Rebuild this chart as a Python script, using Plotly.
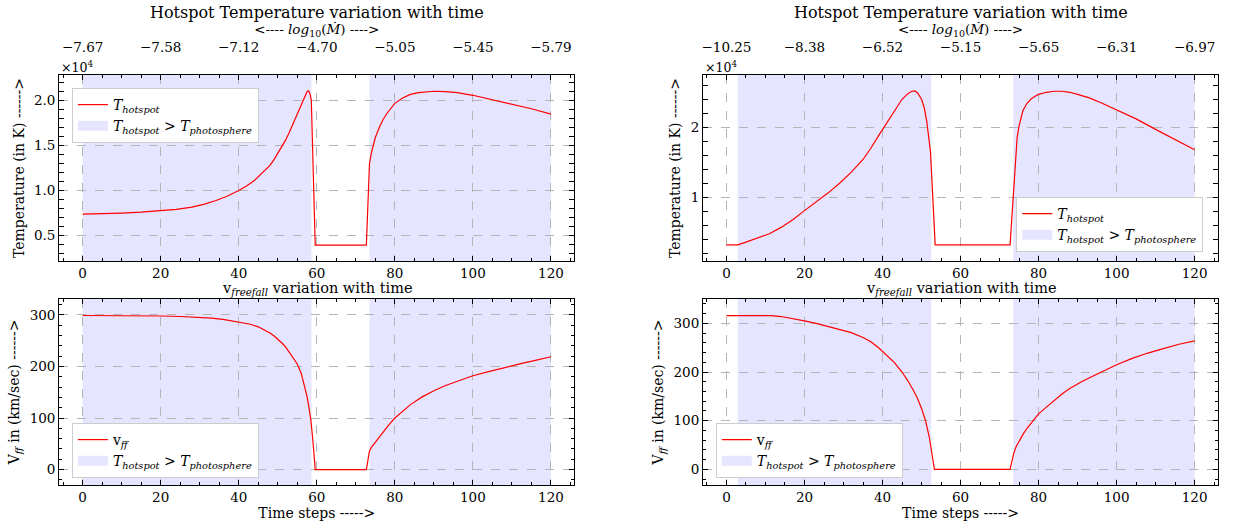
import plotly.graph_objects as go

# ---------------- data ----------------
# Left column: hotspot temperature (K) vs time step
t_T_left = [0, 5, 10, 15, 20, 24, 28, 31, 34, 37, 40, 42, 44, 46, 48, 49, 50, 51, 52, 53, 54,
            55, 56, 56.8, 57.5, 57.9, 58.3, 58.6, 59.6, 72.7, 73.2, 73.5, 74, 74.5, 75, 76, 77,
            78, 79, 80, 82, 84, 86, 88, 90, 93, 96, 100, 105, 110, 115, 120]
T_left = [7370, 7400, 7480, 7580, 7730, 7900, 8150, 8450, 8850, 9350, 10000, 10500, 11100,
          11900, 12800, 13400, 14100, 14800, 15600, 16500, 17500, 18600, 19600, 20400, 21000,
          21100, 20700, 20000, 3900, 3900, 9000, 13000, 14200, 15200, 15900, 17000, 17900,
          18600, 19200, 19700, 20300, 20700, 20900, 21000, 21050, 21000, 20900, 20600, 20100,
          19600, 19100, 18500]

# Left column: free-fall velocity (km/s)
t_v_left = [0, 10, 20, 25, 30, 33, 36, 39, 41, 43, 45, 47, 48, 49, 50, 51, 52, 53, 54, 55, 56,
            57, 57.5, 58, 58.5, 59, 59.6, 72.7, 73.2, 73.5, 74, 74.7, 75.5, 77, 78.5, 80, 82,
            84, 87, 90, 93, 96, 100, 104, 108, 112, 116, 120]
v_left = [299, 298.8, 298, 297, 295.5, 294, 291.5, 288, 285.5, 282, 277, 270, 265, 259.5, 253,
          246, 238, 227, 217, 205, 187, 160, 142, 120, 95, 56, 0, 0, 25, 36, 43, 50, 58, 73,
          87, 100, 113, 126, 141, 153, 163, 171, 182, 190, 198, 205, 212, 219]

# Right column: hotspot temperature (K)
t_T_right = [0, 2.9, 5, 8, 11, 14, 17, 20, 23, 26, 29, 32, 35, 37, 39, 41, 43, 45, 46.5, 47.5,
             48.3, 49, 50, 50.7, 51.3, 51.8, 52.3, 52.7, 53.5, 72.7, 73.5, 74, 74.5, 75, 75.5,
             76, 77, 78, 79, 80, 82, 84, 86, 88, 90, 93, 96, 100, 105, 110, 115, 120]
T_right = [3200, 3200, 3600, 4150, 4800, 5700, 6800, 8100, 9300, 10600, 12000, 13600, 15400,
           17000, 18800, 20600, 22400, 24000, 24800, 25150, 25200, 24900, 24000, 22800, 21000,
           19000, 16500, 12000, 3200, 3200, 10000, 15000, 18500, 20200, 21400, 22400, 23400,
           24000, 24400, 24700, 25000, 25150, 25150, 25000, 24700, 24200, 23500, 22500, 21200,
           19700, 18200, 16800]

# Right column: free-fall velocity (km/s)
t_v_right = [0, 11.5, 14, 17, 20, 23, 26, 29, 32, 35, 37, 39, 41, 43, 45, 46.5, 48, 49, 50, 51,
             52, 52.7, 53.3, 72.7, 73.2, 73.6, 74.2, 75, 76, 77, 78.5, 80, 82, 84, 86, 88, 91,
             94, 97, 100, 104, 108, 112, 116, 120]
v_right = [316, 316, 314, 310, 305, 300, 294, 288, 281, 271, 262, 250, 236, 220, 200, 182, 161,
           145, 125, 101, 66, 30, 0, 0, 18, 32, 46, 58, 72, 84, 100, 114, 128, 141, 155, 166,
           180, 192, 204, 215, 228, 239, 248, 257, 264]

# Intervals where T_hotspot > T_photosphere
shade_left = [(0, 58.65), (73.5, 120)]
shade_right = [(2.9, 52.5), (73.5, 120)]

# Tick positions and labels
time_ticks = [0, 20, 40, 60, 80, 100, 120]
mdot_labels_left = ["\u22127.67", "\u22127.58", "\u22127.12", "\u22124.70", "\u22125.05",
                    "\u22125.45", "\u22125.79"]
mdot_labels_right = ["\u221210.25", "\u22128.38", "\u22126.52", "\u22125.15", "\u22125.65",
                     "\u22126.31", "\u22126.97"]

# ---------------- figure ----------------
W, H = 1233, 525
FONT = "DejaVu Serif"
RED = "#ff0000"
SHADE = "rgba(0,0,255,0.1)"
SCALE = 1e4

xdom_L = [57.3 / W, 573.3 / W]
xdom_R = [702.2 / W, 1218 / W]
ydom_T = [1 - 261 / H, 1 - 75 / H]
ydom_B = [1 - 485 / H, 1 - 299 / H]

fig = go.Figure()

T_name = "<i>T</i><sub><i>hotspot</i></sub>"
shade_name = "<i>T</i><sub><i>hotspot</i></sub> &gt; <i>T</i><sub><i>photosphere</i></sub>"
v_name = "v<sub><i>ff</i></sub>"

panels = [
    ("x", "y", t_T_left, [v / SCALE for v in T_left], T_name, shade_left, "legend"),
    ("x2", "y2", t_v_left, v_left, v_name, shade_left, "legend2"),
    ("x3", "y3", t_T_right, [v / SCALE for v in T_right], T_name, shade_right, "legend3"),
    ("x4", "y4", t_v_right, v_right, v_name, shade_right, "legend4"),
]

shapes = []
for xa, ya, xs, ys, nm, shade, lg in panels:
    fig.add_trace(go.Scatter(x=xs, y=ys, mode="lines", line=dict(color=RED, width=1.2),
                             name=nm, xaxis=xa, yaxis=ya, legend=lg, showlegend=True,
                             hoverinfo="x+y"))
    # legend entry for the shaded intervals (patch-like thick line sample)
    fig.add_trace(go.Scatter(x=[None], y=[None], mode="lines",
                             line=dict(color=SHADE, width=12), name=shade_name,
                             xaxis=xa, yaxis=ya, legend=lg, showlegend=True, hoverinfo="skip"))
    for a, b in shade:
        shapes.append(dict(type="rect", xref=xa, yref=ya + " domain", x0=a, x1=b, y0=0, y1=1,
                           fillcolor=SHADE, line=dict(width=0), layer="below"))

# invisible traces so that the top (log10 Mdot) axes get drawn
for xa, ya in (("x5", "y"), ("x6", "y3")):
    fig.add_trace(go.Scatter(x=time_ticks, y=[None] * len(time_ticks), mode="lines",
                             xaxis=xa, yaxis=ya, showlegend=False, hoverinfo="skip"))

TICKFONT = dict(family=FONT, size=13.5, color="black")
LABFONT = dict(family=FONT, size=14, color="black")

axis_common = dict(showline=True, linecolor="black", linewidth=1.2, mirror="allticks",
                   ticks="inside", ticklen=5, tickwidth=1, tickcolor="black",
                   showgrid=True, gridcolor="#b5b5b5", griddash="dash", gridwidth=1,
                   zeroline=False, tickfont=TICKFONT)

def xaxis(dom, anchor, title=None):
    d = dict(axis_common, domain=dom, anchor=anchor, range=[-6, 126], tickmode="array",
             tickvals=time_ticks,
             minor=dict(ticks="inside", ticklen=3, tickwidth=1, tickcolor="black",
                        tickmode="linear", tick0=0, dtick=5, showgrid=False))
    if title:
        d["title"] = dict(text=title, font=LABFONT, standoff=2)
    return d

def yaxis(dom, anchor, rng, dtick, mdtick, fmt, title):
    return dict(axis_common, domain=dom, anchor=anchor, range=rng, tickmode="linear",
                tick0=0, dtick=dtick, tickformat=fmt,
                minor=dict(ticks="inside", ticklen=3, tickwidth=1, tickcolor="black",
                           tickmode="linear", tick0=0, dtick=mdtick, showgrid=False),
                title=dict(text=title, font=LABFONT, standoff=6))

T_title = "Temperature (in K) ------&gt;"
v_title = "V<sub><i>ff</i></sub> in (km/sec) ------&gt;"
time_title = "Time steps -----&gt;"
mdot_title = "&lt;---- <i>log</i><sub>10</sub>(<i>\u1E40</i>) ----&gt;"

def top_axis(over, anchor, dom, labels):
    return dict(overlaying=over, anchor=anchor, side="top", domain=dom, range=[-6, 126],
                tickmode="array", tickvals=time_ticks, ticktext=labels, ticks="",
                showgrid=False, showline=False, zeroline=False,
                tickfont=TICKFONT, ticklabelstandoff=19,
                title=dict(text=mdot_title, font=dict(family=FONT, size=13.5, color="black"),
                           standoff=0))

fig.update_layout(
    width=W, height=H, autosize=False,
    margin=dict(l=0, r=0, t=0, b=0),
    paper_bgcolor="white", plot_bgcolor="white",
    xaxis=xaxis(xdom_L, "y"),
    yaxis=yaxis(ydom_T, "x", [0.214, 2.286], 0.5, 0.1, ".1f", T_title),
    xaxis2=xaxis(xdom_L, "y2", time_title),
    yaxis2=yaxis(ydom_B, "x2", [-30, 331], 100, 20, "d", v_title),
    xaxis3=xaxis(xdom_R, "y3"),
    yaxis3=yaxis(ydom_T, "x3", [0.09, 2.747], 1, 0.2, "d", T_title),
    xaxis4=xaxis(xdom_R, "y4", time_title),
    yaxis4=yaxis(ydom_B, "x4", [-32, 350], 100, 20, "d", v_title),
    xaxis5=top_axis("x", "y", xdom_L, mdot_labels_left),
    xaxis6=top_axis("x3", "y3", xdom_R, mdot_labels_right),
    shapes=shapes,
)

leg_common = dict(bgcolor="white", bordercolor="#cccccc", borderwidth=1,
                  font=dict(family=FONT, size=14, color="black"),
                  xanchor="left", yanchor="top", tracegroupgap=0)
fig.update_layout(
    legend=dict(leg_common, x=70 / W, y=1 - 88 / H),
    legend2=dict(leg_common, x=70 / W, y=1 - 423 / H),
    legend3=dict(leg_common, x=1016 / W, y=1 - 197 / H),
    legend4=dict(leg_common, x=715 / W, y=1 - 423 / H),
)

ann = []
title_T = "Hotspot Temperature variation with time"
title_v = "v<sub><i>freefall</i></sub> variation with time"
for dom in (xdom_L, xdom_R):
    cx = (dom[0] + dom[1]) / 2
    ann.append(dict(text=title_T, x=cx, y=1 - 12 / H, xref="paper", yref="paper",
                    showarrow=False, font=dict(family=FONT, size=16, color="black"),
                    xanchor="center", yanchor="middle"))
    ann.append(dict(text=title_v, x=cx, y=1 - 289 / H, xref="paper", yref="paper",
                    showarrow=False, font=dict(family=FONT, size=14.5, color="black"),
                    xanchor="center", yanchor="middle"))
    ann.append(dict(text="\u00d710<sup>4</sup>", x=dom[0], y=1 - 67 / H, xref="paper",
                    yref="paper", showarrow=False, font=dict(family=FONT, size=12.5, color="black"),
                    xanchor="left", yanchor="middle"))
fig.update_layout(annotations=ann)

fig.write_html("out.html")
